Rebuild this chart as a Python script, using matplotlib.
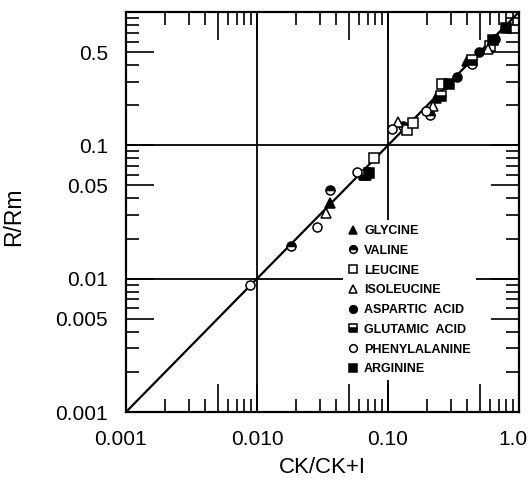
import matplotlib
matplotlib.use("Agg")
import matplotlib.pyplot as plt
import matplotlib.transforms as mtransforms
from matplotlib.ticker import FixedLocator, FixedFormatter, NullFormatter

plt.rcParams['font.family'] = ['Liberation Sans', 'DejaVu Sans']

# ---- data ----
glycine_x = [0.036, 0.068, 0.232, 0.40]
glycine_y = [0.037, 0.060, 0.225, 0.43]
valine_x = [0.0182, 0.036, 0.130, 0.21, 0.44]
valine_y = [0.0177, 0.046, 0.139, 0.17, 0.41]
leucine_x = [0.078, 0.139, 0.155, 0.258, 0.60]
leucine_y = [0.080, 0.130, 0.146, 0.288, 0.56]
isoleucine_x = [0.0337, 0.119, 0.22, 0.58]
isoleucine_y = [0.031, 0.149, 0.197, 0.53]
aspartic_x = [0.070, 0.336, 0.495, 0.66]
aspartic_y = [0.063, 0.325, 0.50, 0.63]
glutamic_x = [0.066, 0.254, 0.44]
glutamic_y = [0.060, 0.235, 0.44]
phenyl_x = [0.00885, 0.0287, 0.058, 0.107, 0.195]
phenyl_y = [0.0089, 0.0246, 0.0627, 0.132, 0.180]
arginine_x = [0.072, 0.29, 0.634, 0.79]
arginine_y = [0.062, 0.288, 0.615, 0.76]

line_x = [0.001, 1.0]
line_y = [0.001, 1.0]

major_ticks = [0.001, 0.005, 0.01, 0.05, 0.1, 0.5, 1.0]
x_ticklabels = ['0.001', '', '0.010', '', '0.10', '', '1.0']
y_ticklabels = ['0.001', '0.005', '0.01', '0.05', '0.1', '0.5', '']
minor_ticks = [m * d for d in (0.001, 0.01, 0.1) for m in (2, 3, 4, 6, 7, 8, 9)]
grid_vals = [0.01, 0.1]

fig = plt.figure(figsize=(5.31, 4.86), dpi=100)
ax = fig.add_axes([126/531, 1 - 412/486, 393/531, 400/486])
ax.set_xscale('log')
ax.set_yscale('log')
ax.set_xlim(0.001, 1.0)
ax.set_ylim(0.001, 1.0)

for g in grid_vals:
    ax.axvline(g, color='black', lw=1.3, zorder=1)
    ax.axhline(g, color='black', lw=1.3, zorder=1)

ax.plot(line_x, line_y, color='black', lw=1.6, zorder=2)

ms = 6.5
series = [
    ('GLYCINE', glycine_x, glycine_y, dict(marker='^', mfc='black', mec='black')),
    ('VALINE', valine_x, valine_y, dict(marker='o', fillstyle='top', mfc='black', mfcalt='white', mec='black')),
    ('LEUCINE', leucine_x, leucine_y, dict(marker='s', mfc='white', mec='black')),
    ('ISOLEUCINE', isoleucine_x, isoleucine_y, dict(marker='^', mfc='white', mec='black')),
    ('ASPARTIC  ACID', aspartic_x, aspartic_y, dict(marker='o', mfc='black', mec='black')),
    ('GLUTAMIC  ACID', glutamic_x, glutamic_y, dict(marker='s', fillstyle='bottom', mfc='black', mfcalt='white', mec='black')),
    ('PHENYLALANINE', phenyl_x, phenyl_y, dict(marker='o', mfc='white', mec='black')),
    ('ARGININE', arginine_x, arginine_y, dict(marker='s', mfc='black', mec='black')),
]
for name, xs, ys, st in series:
    ax.plot(xs, ys, ls='none', ms=ms, mew=1.1, label=name, zorder=3, **st)

leg = ax.legend(loc='upper left', bbox_to_anchor=(0.552, 0.48), frameon=True,
                framealpha=1, facecolor='white', edgecolor='none', fancybox=False,
                prop={'family': 'Liberation Sans', 'weight': 'bold', 'size': 9},
                handlelength=0.8, handletextpad=0.5, labelspacing=0.62,
                markerscale=0.85, borderpad=0.4, borderaxespad=0)
leg.set_zorder(5)

ax.xaxis.set_major_locator(FixedLocator(major_ticks))
ax.xaxis.set_major_formatter(FixedFormatter(x_ticklabels))
ax.yaxis.set_major_locator(FixedLocator(major_ticks))
ax.yaxis.set_major_formatter(FixedFormatter(y_ticklabels))
ax.xaxis.set_minor_locator(FixedLocator(minor_ticks))
ax.yaxis.set_minor_locator(FixedLocator(minor_ticks))
ax.xaxis.set_minor_formatter(NullFormatter())
ax.yaxis.set_minor_formatter(NullFormatter())

ax.tick_params(which='both', direction='in', top=True, right=True, width=1.2, color='black')
ax.tick_params(which='major', length=20, labelsize=15)
ax.tick_params(which='minor', length=9.5)
ax.tick_params(axis='y', which='major', pad=13)
ax.tick_params(axis='x', which='major', pad=13)

# shift the "1.0" and "0.001" labels slightly left, as in the reference
fig.canvas.draw()
for lab in ax.get_xticklabels():
    if lab.get_text() in ('1.0', '0.001'):
        lab.set_transform(lab.get_transform() +
                          mtransforms.ScaledTranslation(-6/100, 0, fig.dpi_scale_trans))

for s in ax.spines.values():
    s.set_linewidth(1.6)

ax.set_xlabel('CK/CK+I', fontsize=16, labelpad=6)
ax.set_ylabel('R/Rm', fontsize=16.5)
ax.yaxis.set_label_coords((25 - 126) / 393, (412 - 217) / 400)

fig.savefig('out.png', dpi=100)
